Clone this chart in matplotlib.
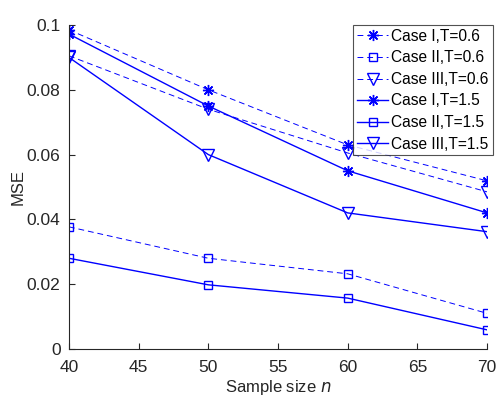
import matplotlib
matplotlib.use("Agg")
import matplotlib.pyplot as plt

plt.rcParams['font.family'] = ['Liberation Sans', 'DejaVu Sans']

sample_size = [40, 50, 60, 70]

case1_t06 = [0.0985, 0.0800, 0.0630, 0.0519]
case2_t06 = [0.0377, 0.0280, 0.0232, 0.0110]
case3_t06 = [0.0905, 0.0740, 0.0605, 0.0485]
case1_t15 = [0.0972, 0.0750, 0.0550, 0.0420]
case2_t15 = [0.0280, 0.0198, 0.0157, 0.0059]
case3_t15 = [0.0900, 0.0600, 0.0420, 0.0362]

labels = ['Case I,T=0.6', 'Case II,T=0.6', 'Case III,T=0.6',
          'Case I,T=1.5', 'Case II,T=1.5', 'Case III,T=1.5']

x_ticks = [40, 45, 50, 55, 60, 65, 70]
y_ticks = [0, 0.02, 0.04, 0.06, 0.08, 0.1]
y_tick_labels = ['0', '0.02', '0.04', '0.06', '0.08', '0.1']

star = (8, 2, 0)

fig = plt.figure(figsize=(4.96, 3.97), dpi=100)
ax = fig.add_axes([0.139, 0.121, 0.843, 0.816])

dash = dict(color='blue', linestyle=(0, (6, 4)), linewidth=0.7, markerfacecolor='none')
solid = dict(color='blue', linestyle='-', linewidth=1.0, markerfacecolor='none')

ax.plot(sample_size, case1_t06, marker=star, markersize=8, label=labels[0], **dash)
ax.plot(sample_size, case2_t06, marker='s', markersize=6, label=labels[1], **dash)
ax.plot(sample_size, case3_t06, marker='v', markersize=8, label=labels[2], **dash)
ax.plot(sample_size, case1_t15, marker=star, markersize=8, label=labels[3], **solid)
ax.plot(sample_size, case2_t15, marker='s', markersize=6, label=labels[4], **solid)
ax.plot(sample_size, case3_t15, marker='v', markersize=8, label=labels[5], **solid)

ax.set_xlim(40, 70)
ax.set_ylim(0, 0.1)
ax.set_xticks(x_ticks)
ax.set_yticks(y_ticks)
ax.set_yticklabels(y_tick_labels)
ax.tick_params(direction='in', labelsize=12.5, length=4, color='#262626', labelcolor='#262626')
ax.tick_params(axis='x', pad=8)
ax.tick_params(axis='y', pad=6)
ax.spines['top'].set_visible(False)
ax.spines['right'].set_visible(False)
for s in ['left', 'bottom']:
    ax.spines[s].set_color('#262626')

ax.set_xlabel('Sample size $n$', fontsize=12, color='#262626', labelpad=2)
ax.set_ylabel('MSE', fontsize=12, color='#262626', labelpad=1)

leg = ax.legend(loc='upper right', bbox_to_anchor=(1.013, 1.0), fontsize=11.2,
                frameon=True, fancybox=False, edgecolor='#262626',
                handlelength=2.0, handletextpad=0.2, labelspacing=0.42,
                borderpad=0.25, borderaxespad=0.0)
leg.get_frame().set_linewidth(0.8)

fig.savefig('out.png', dpi=100)
